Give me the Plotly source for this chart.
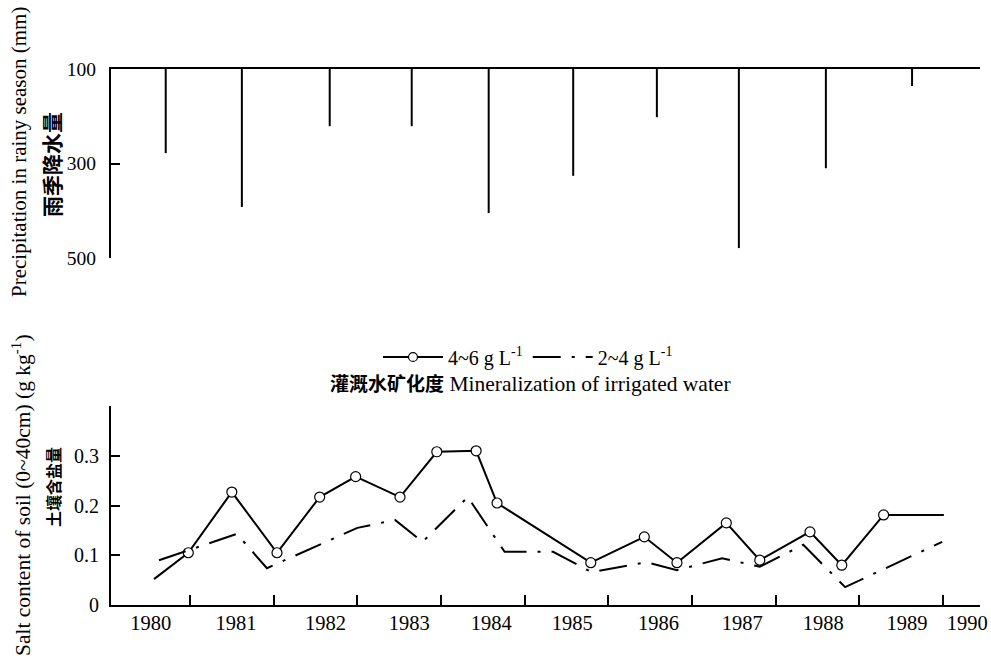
import plotly.graph_objects as go

# ---------------- data ----------------
# rainy-season precipitation (mm), spikes hanging from the 100 mm line
precip_x = [1980.21, 1981.12, 1982.17, 1983.15, 1984.07, 1985.08, 1986.08, 1987.06, 1988.10, 1989.13]
precip = [278, 392, 221, 221, 405, 326, 202, 479, 310, 136]

# soil salt content (g/kg), irrigation water 4~6 g/L
salt46_x = [1980.07, 1980.48, 1981.00, 1981.54, 1982.05, 1982.48, 1983.01, 1983.45, 1983.92,
            1984.17, 1985.29, 1985.93, 1986.32, 1986.91, 1987.31, 1987.91, 1988.29, 1988.79, 1989.51]
salt46 = [0.052, 0.105, 0.227, 0.105, 0.217, 0.258, 0.217, 0.308, 0.310,
          0.205, 0.085, 0.137, 0.085, 0.165, 0.090, 0.147, 0.080, 0.181, 0.181]

# soil salt content (g/kg), irrigation water 2~4 g/L
salt24_x = [1980.13, 1980.49, 1981.06, 1981.42, 1982.50, 1982.95, 1983.28, 1983.82, 1984.26,
            1984.84, 1985.30, 1985.96, 1986.32, 1986.86, 1987.31, 1987.83, 1988.33, 1989.49]
salt24 = [0.090, 0.111, 0.143, 0.074, 0.155, 0.171, 0.127, 0.217, 0.107,
          0.107, 0.066, 0.086, 0.070, 0.094, 0.077, 0.121, 0.036, 0.127]

year_labels = ["1980", "1981", "1982", "1983", "1984", "1985", "1986", "1987", "1988", "1989", "1990"]
year_label_pos = [1980.03, 1981.05, 1982.12, 1983.12, 1984.1, 1985.07, 1986.1, 1987.1, 1988.07, 1989.07, 1989.79]
year_boundaries = [1980.5, 1981.5, 1982.5, 1983.5, 1984.5, 1985.5, 1986.5, 1987.5, 1988.5, 1989.5]

precip_ticks = [100, 300, 500]
salt_ticks = [0, 0.1, 0.2, 0.3, 0.4]
salt_ticktext = ["0", "0.1", "0.2", "0.3", ""]

SERIF = "Liberation Serif, Times New Roman, serif"
CJK = "Noto Sans CJK SC"
W, H = 991, 661

fig = go.Figure()

# spikes for precipitation
sx, sy = [], []
for xv, pv in zip(precip_x, precip):
    sx += [xv, xv, None]
    sy += [precip_ticks[0], pv, None]
fig.add_trace(go.Scatter(x=sx, y=sy, mode="lines", line=dict(color="black", width=2),
                         xaxis="x2", yaxis="y2", showlegend=False, hoverinfo="skip"))

# salt lines
sizes46 = [0] + [10] * (len(salt46) - 2) + [0]
fig.add_trace(go.Scatter(x=salt46_x, y=salt46, mode="lines+markers",
                         name="4~6 g L<sup>-1</sup>",
                         line=dict(color="black", width=2),
                         marker=dict(symbol="circle", size=sizes46, color="#ffffff", opacity=1,
                                     line=dict(color="black", width=1.2)),
                         xaxis="x", yaxis="y"))
fig.add_trace(go.Scatter(x=salt24_x, y=salt24, mode="lines",
                         name="2~4 g L<sup>-1</sup>",
                         line=dict(color="black", width=2, dash="28px,11px,3px,11px"),
                         xaxis="x", yaxis="y"))

xdom = [111 / W, 980 / W]
xrange = [1979.556, 1989.942]

fig.update_layout(
    template="none",
    width=W, height=H,
    margin=dict(l=0, r=0, t=0, b=0, pad=0),
    paper_bgcolor="white", plot_bgcolor="white",
    font=dict(family=SERIF, size=19, color="black"),
    xaxis=dict(domain=xdom, range=xrange, anchor="y", automargin=False, showline=True,
               linecolor="black", linewidth=2, showgrid=False, zeroline=False,
               tickmode="array", tickvals=year_label_pos, ticktext=year_labels,
               ticks="inside", ticklen=0, tickwidth=0, ticklabelstandoff=-2,
               tickfont=dict(family=SERIF, size=20.5),
               minor=dict(tickmode="array", tickvals=year_boundaries, ticks="inside",
                          ticklen=10, tickwidth=2, tickcolor="black", showgrid=False)),
    yaxis=dict(domain=[1 - 605 / H, 1 - 406 / H], range=[0, 0.4], anchor="x", automargin=False,
               showline=True, linecolor="black", linewidth=2, showgrid=False, zeroline=False,
               tickmode="array", tickvals=salt_ticks, ticktext=salt_ticktext,
               ticks="inside", ticklen=9, tickwidth=2, tickcolor="black", ticklabelstandoff=6,
               tickfont=dict(family=SERIF, size=20)),
    xaxis2=dict(domain=xdom, range=xrange, anchor="y2", side="top", automargin=False,
                showline=True, linecolor="black", linewidth=2, showgrid=False, zeroline=False,
                showticklabels=False, ticks=""),
    yaxis2=dict(domain=[1 - 258 / H, 1 - 69 / H], range=[500, 100], anchor="x2", automargin=False,
                showline=True, linecolor="black", linewidth=2, showgrid=False, zeroline=False,
                tickmode="array", tickvals=precip_ticks, ticks="inside", ticklen=9, tickwidth=2,
                tickcolor="black", ticklabelstandoff=9, tickfont=dict(family=SERIF, size=19.5)),
    legend=dict(orientation="h", x=528 / W, y=1 - 357 / H, xanchor="center", yanchor="middle",
                font=dict(family=SERIF, size=20), bgcolor="rgba(0,0,0,0)",
                itemwidth=60, tracegroupgap=0),
    showlegend=True,
)

ann = [
    dict(text="Precipitation in rainy season (mm)", x=19 / W, y=1 - 152 / H,
         font=dict(family=SERIF, size=21)),
    dict(text="<b>雨季降水量</b>", x=51 / W, y=1 - 165 / H, font=dict(family=CJK, size=21)),
    dict(text="Salt content of soil (0~40cm) (g kg<sup>-1</sup>)", x=21 / W, y=1 - 495 / H,
         font=dict(family=SERIF, size=21.5)),
    dict(text="<b>土壤含盐量</b>", x=53 / W, y=1 - 487 / H, font=dict(family=CJK, size=16)),
]
for a in ann:
    fig.add_annotation(xref="paper", yref="paper", textangle=-90, showarrow=False,
                       xanchor="center", yanchor="middle", **a)

fig.add_annotation(text='<span style="font-size:19px"><b>灌溉水矿化度</b></span> Mineralization of irrigated water',
                   xref="paper", yref="paper", x=530 / W, y=1 - 384 / H, showarrow=False,
                   xanchor="center", yanchor="middle",
                   font=dict(family=SERIF + ", " + CJK, size=21.5))

fig.write_html("out.html")
